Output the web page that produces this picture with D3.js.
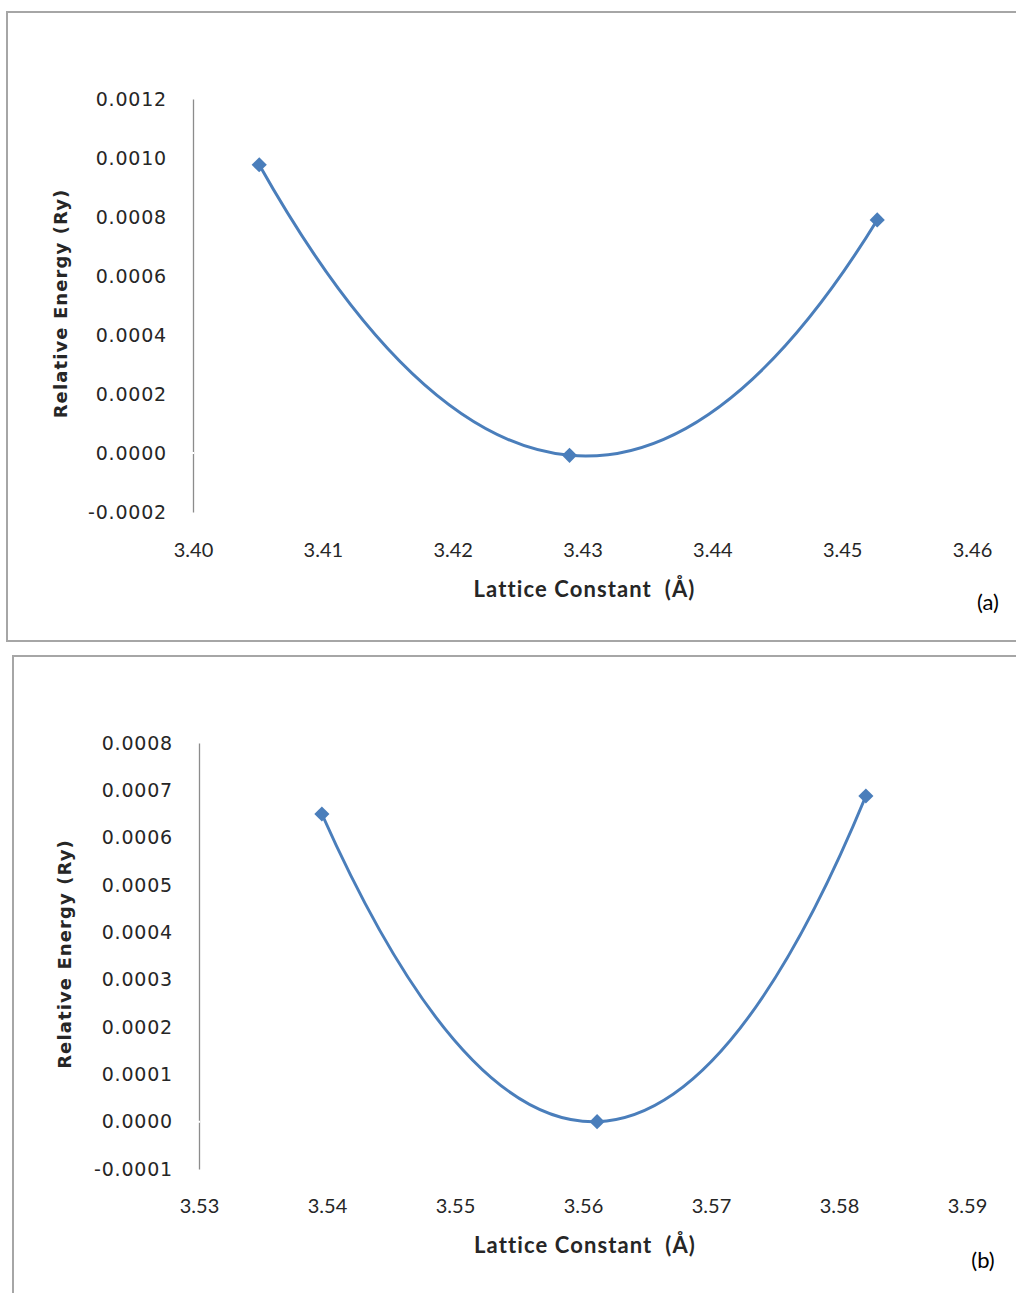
<!DOCTYPE html>
<html>
<head>
<meta charset="utf-8">
<script src="https://cdn.jsdelivr.net/npm/d3@7"></script>
<style>
  html, body { margin: 0; padding: 0; background: #fff; }
  svg { display: block; }
</style>
</head>
<body>
<svg id="chart" width="1016" height="1293"></svg>
<script>
// ---- Data ----
const latticeA = [3.4051, 3.4290, 3.4527];
const energyA  = [0.000977, -0.000008, 0.00079];
const xTicksA  = [3.40, 3.41, 3.42, 3.43, 3.44, 3.45, 3.46];
const yTicksA  = [-0.0002, 0.0000, 0.0002, 0.0004, 0.0006, 0.0008, 0.0010, 0.0012];

const latticeB = [3.5396, 3.5611, 3.5821];
const energyB  = [0.00065, 0.0, 0.000688];
const xTicksB  = [3.53, 3.54, 3.55, 3.56, 3.57, 3.58, 3.59];
const yTicksB  = [-0.0001, 0.0000, 0.0001, 0.0002, 0.0003, 0.0004, 0.0005, 0.0006, 0.0007, 0.0008];

const xTitle = "Lattice Constant  (Å)";
const yTitle = "Relative Energy (Ry)";
const panelTags = ["(a)", "(b)"];

const seriesColor = "#4a7ebb";
const svg = d3.select("#chart");

// Spreadsheet-style smoothed line: Catmull-Rom tangents inside,
// parabolic end conditions (a d3 custom curve factory).
function curveSmoothSheet(context) {
  let pts = [];
  return {
    areaStart() {}, areaEnd() {},
    lineStart() { pts = []; },
    point(x, y) { pts.push([+x, +y]); },
    lineEnd() {
      const n = pts.length;
      if (!n) return;
      context.moveTo(pts[0][0], pts[0][1]);
      if (n < 3) { pts.slice(1).forEach(p => context.lineTo(p[0], p[1])); return; }
      const t = pts.map(() => [0, 0]);
      for (let i = 1; i < n - 1; i++) {
        t[i] = [(pts[i + 1][0] - pts[i - 1][0]) / 2, (pts[i + 1][1] - pts[i - 1][1]) / 2];
      }
      t[0] = [2 * (pts[1][0] - pts[0][0]) - t[1][0], 2 * (pts[1][1] - pts[0][1]) - t[1][1]];
      t[n - 1] = [2 * (pts[n - 1][0] - pts[n - 2][0]) - t[n - 2][0],
                  2 * (pts[n - 1][1] - pts[n - 2][1]) - t[n - 2][1]];
      for (let i = 0; i < n - 1; i++) {
        const a = pts[i], b = pts[i + 1];
        context.bezierCurveTo(a[0] + t[i][0] / 3, a[1] + t[i][1] / 3,
                              b[0] - t[i + 1][0] / 3, b[1] - t[i + 1][1] / 3,
                              b[0], b[1]);
      }
    }
  };
}

function drawPanel(opt) {
  const g = svg.append("g");
  // frame
  g.append("rect")
    .attr("x", opt.box[0]).attr("y", opt.box[1])
    .attr("width", opt.box[2]).attr("height", opt.box[3])
    .attr("fill", "#fff").attr("stroke", "#a6a6a6").attr("stroke-width", 2);

  const x = d3.scaleLinear().domain(d3.extent(opt.xTicks)).range([opt.left, opt.right]);
  const y = d3.scaleLinear().domain(d3.extent(opt.yTicks)).range([opt.bottom, opt.top]);

  // y axis
  const yAxis = d3.axisLeft(y).tickValues(opt.yTicks).tickSize(0).tickPadding(26)
    .tickFormat(d3.format(".4f"));
  const ya = g.append("g").attr("transform", `translate(${opt.left},0)`).call(yAxis);
  ya.select(".domain").attr("stroke", "#8c8c8c").attr("stroke-width", 1.3);
  ya.selectAll("text")
    .attr("font-family", "DejaVu Sans, Verdana, sans-serif")
    .attr("font-size", 19).attr("letter-spacing", 0.8)
    .attr("fill", "#262626")
    .text(d => d3.format(".4f")(d).replace("−", "-"));
  // small white break where the (hidden) horizontal axis crosses
  g.append("line")
    .attr("x1", opt.left).attr("x2", opt.left)
    .attr("y1", y(0) - 1).attr("y2", y(0) + 1)
    .attr("stroke", "#fff").attr("stroke-width", 2);

  // x axis labels (no axis line)
  const xAxis = d3.axisBottom(x).tickValues(opt.xTicks).tickSize(0).tickPadding(0)
    .tickFormat(d3.format(".2f"));
  const xa = g.append("g").attr("transform", `translate(0,${opt.xLabelY})`).call(xAxis);
  xa.select(".domain").remove();
  xa.selectAll("text")
    .attr("font-family", "Lato, sans-serif")
    .attr("font-size", 20).attr("fill", "#262626")
    .attr("dy", "0.35em");

  // titles
  g.append("text")
    .attr("x", (opt.left + opt.right) / 2 + 2).attr("y", opt.xTitleY)
    .attr("text-anchor", "middle").attr("dominant-baseline", "middle")
    .attr("font-family", "Lato, sans-serif").attr("font-weight", "bold")
    .attr("font-size", 22).attr("letter-spacing", 1.1).attr("fill", "#262626")
    .attr("xml:space", "preserve")
    .text(xTitle);
  g.append("text")
    .attr("transform", `translate(${opt.yTitleX},${(opt.top + opt.bottom) / 2 - 2}) rotate(-90)`)
    .attr("text-anchor", "middle").attr("dominant-baseline", "middle")
    .attr("font-family", "DejaVu Sans, Verdana, sans-serif").attr("font-weight", "bold")
    .attr("font-size", 18).attr("letter-spacing", 1.1).attr("fill", "#262626")
    .text(yTitle);
  g.append("text")
    .attr("x", opt.tag[0]).attr("y", opt.tag[1])
    .attr("text-anchor", "middle").attr("dominant-baseline", "middle")
    .attr("font-family", "Lato, sans-serif").attr("font-size", 22).attr("fill", "#000")
    .text(opt.tagText);

  // series
  const pts = opt.xs.map((v, i) => [v, opt.ys[i]]);
  const line = d3.line().x(d => x(d[0])).y(d => y(d[1])).curve(curveSmoothSheet);
  g.append("path").datum(pts)
    .attr("d", line).attr("fill", "none")
    .attr("stroke", seriesColor).attr("stroke-width", 3);
  g.selectAll("path.marker").data(pts).enter().append("path")
    .attr("class", "marker")
    .attr("d", d3.symbol(d3.symbolSquare, 115))
    .attr("transform", d => `translate(${x(d[0])},${y(d[1])}) rotate(45)`)
    .attr("fill", seriesColor);
}

drawPanel({
  box: [7, 12, 1030, 629],
  left: 193, right: 972, top: 99, bottom: 512,
  xTicks: xTicksA, yTicks: yTicksA,
  xs: latticeA, ys: energyA,
  xLabelY: 550, xTitleY: 591, yTitleX: 62,
  tag: [988, 604], tagText: panelTags[0]
});

drawPanel({
  box: [13, 656, 1030, 660],
  left: 199, right: 967, top: 743, bottom: 1169,
  xTicks: xTicksB, yTicks: yTicksB,
  xs: latticeB, ys: energyB,
  xLabelY: 1206, xTitleY: 1247, yTitleX: 66,
  tag: [983, 1262], tagText: panelTags[1]
});
</script>
</body>
</html>
